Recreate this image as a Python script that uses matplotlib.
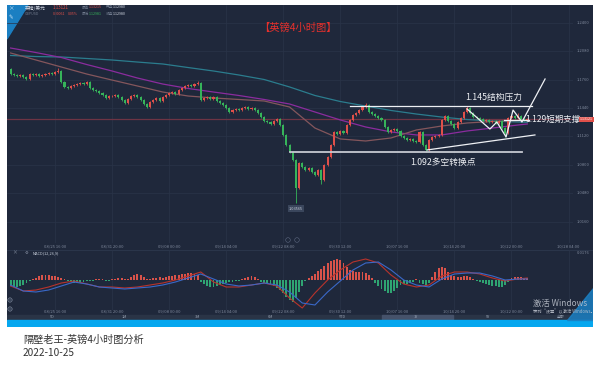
import numpy as np
import matplotlib.pyplot as plt
from matplotlib.patches import Rectangle, Polygon, Circle

plt.rcParams['font.family'] = ['Noto Sans CJK SC', 'DejaVu Sans']

# ---------------- data ----------------
first_open = 1.1880
closes = [
    1.1823, 1.1812, 1.1800, 1.1812, 1.1789, 1.1767, 1.1823, 1.1812, 1.1823, 1.1800,
    1.1812, 1.1823, 1.1834, 1.1823, 1.1846, 1.1857, 1.1733, 1.1677, 1.1665, 1.1688,
    1.1699, 1.1710, 1.1722, 1.1710, 1.1733, 1.1665, 1.1643, 1.1631, 1.1609, 1.1586,
    1.1553, 1.1575, 1.1575, 1.1586, 1.1564, 1.1530, 1.1496, 1.1541, 1.1575, 1.1586,
    1.1564, 1.1530, 1.1485, 1.1451, 1.1507, 1.1530, 1.1553, 1.1519, 1.1564, 1.1586,
    1.1609, 1.1620, 1.1598, 1.1643, 1.1665, 1.1688, 1.1699, 1.1688, 1.1710, 1.1722,
    1.1530, 1.1553, 1.1564, 1.1541, 1.1564, 1.1519, 1.1496, 1.1474, 1.1440, 1.1395,
    1.1417, 1.1429, 1.1417, 1.1440, 1.1451, 1.1429, 1.1440, 1.1417, 1.1384, 1.1338,
    1.1293, 1.1282, 1.1260, 1.1293, 1.1316, 1.1248, 1.1136, 1.1023, 1.0944, 1.0854,
    1.0538, 1.0820, 1.0775, 1.0741, 1.0764, 1.0719, 1.0685, 1.0741, 1.0629, 1.0798,
    1.0888, 1.1023, 1.1170, 1.1147, 1.1181, 1.1158, 1.1248, 1.1305, 1.1361, 1.1384,
    1.1417, 1.1451, 1.1474, 1.1395, 1.1372, 1.1350, 1.1327, 1.1305, 1.1226, 1.1170,
    1.1192, 1.1203, 1.1181, 1.1124, 1.1102, 1.1079, 1.1091, 1.1068, 1.1057, 1.1170,
    1.1023, 1.0967, 1.1079, 1.1113, 1.1124, 1.1136, 1.1305, 1.1350, 1.1293, 1.1260,
    1.1214, 1.1282, 1.1327, 1.1395, 1.1440, 1.1384, 1.1338, 1.1327, 1.1316, 1.1293,
    1.1305, 1.1282, 1.1293, 1.1271, 1.1293, 1.1214, 1.1158, 1.1327, 1.1350, 1.1327,
    1.1350, 1.1316, 1.1305, 1.1312,
]
# long wicks (bar index -> price); other bars get a short wick
wick_high = {0: 1.1891, 15: 1.1891, 59: 1.1744, 112: 1.1496, 144: 1.1462, 160: 1.1384}
wick_low = {43: 1.1440, 90: 1.0369, 98: 1.0583, 131: 1.0944, 156: 1.1113}
low_label = '1.03565'
last_price = 1.13121

ma_bars = [0, 8, 16, 24, 32, 40, 48, 56, 64, 72, 80, 88, 96, 104, 112, 120, 128,
           136, 144, 152, 160, 163]
ma_teal = [1.2032, 1.2020, 1.2015, 1.1998, 1.1981, 1.1958, 1.1936, 1.1896, 1.1857,
           1.1812, 1.1761, 1.1677, 1.1581, 1.1513, 1.1462, 1.1412, 1.1372, 1.1338,
           1.1310, 1.1293, 1.1282, 1.1279]
ma_purple = [1.2116, 1.2065, 1.2009, 1.1930, 1.1857, 1.1778, 1.1710, 1.1660, 1.1620,
             1.1581, 1.1536, 1.1485, 1.1395, 1.1305, 1.1226, 1.1170, 1.1136, 1.1136,
             1.1181, 1.1214, 1.1248, 1.1260]
ma_brown = [1.2060, 1.1981, 1.1902, 1.1823, 1.1755, 1.1688, 1.1620, 1.1575, 1.1553,
            1.1536, 1.1519, 1.1451, 1.1214, 1.1091, 1.1068, 1.1102, 1.1192, 1.1237,
            1.1271, 1.1288, 1.1299, 1.1305]

time_labels = ['08/25 16:00', '08/31 20:00', '09/08 00:00', '09/14 04:00', '09/22 08:00',
               '09/30 12:00', '10/07 16:00', '10/14 20:00', '10/22 00:00', '10/28 04:00']
time_label_bars = [14, 32, 50, 68, 86, 104, 122, 140, 158, 176]
price_ticks = [1.240, 1.208, 1.176, 1.144, 1.112, 1.080, 1.048, 1.016]

# MACD(12,26,9), read in chart units (1 unit ~ 0.00065)
macd_unit = 0.00065
macd_hist = [
    -6, -7, -7, -6, -5, -3, -1,
    1, 2, 4, 5, 5, 5, 4, 4, 3, 2, 1,
    -1, -2, -3, -3, -2, -2, -1, -1,
    -1, 1, 1, 1, -1, -1, 1, 1, 2, 2, 1, 1,
    3, 5, 6, 5, 3, 1, 1, 2,
    2, 3, 2, 3, 4, 4, 5, 5, 6, 6, 7, 7, 6, 5,
    -2, -4, -6, -7, -7, -6, -5, -4, -3, -2, -2, -1,
    -1, 1, 2, 3, 4, 3, 1,
    -2, -3, -4, -5, -6, -8, -10, -13, -17, -20, -22, -18, -12,
    -6, -1,
    2, 4, 6, 9, 11, 14, 17, 19, 20, 21, 20, 17, 13, 10, 9, 8, 8, 8, 7, 5, 2,
    -3, -6, -9, -11, -13, -13, -11, -8, -5,
    -4, -4, -3, -2, 1, -3, -4, -5, -3,
    3, 8, 12, 13, 12, 8, 5, 4, 3,
    3, 4, 4, 3, 1,
    -1, -2, -3, -4, -5, -6, -6, -7, -7, -5, -2,
    2, 3, 3, 3, 2, 2,
]
line_bars = [0, 4, 8, 12, 16, 20, 24, 28, 32, 36, 40, 44, 48, 52, 56, 60, 64, 68, 72,
             76, 80, 84, 88, 92, 96, 100, 104, 108, 112, 116, 120, 124, 128, 132, 136,
             140, 144, 148, 152, 156, 160, 163]
macd_dif = [-6, -11, -10, -7, -3, -1, -4, -7, -7, -8, -7, -5, -3, 0, 4, 8, -2, -7, -7,
            -5, -3, -6, -18, -28, -13, 0, 10, 18, 21, 17, 5, -4, -7, -5, 4, 8, 8, 6, 2,
            -1, 1, 2]
macd_dea = [-5, -11, -12, -10, -6, -2, -4, -7, -8, -9, -8, -7, -5, -2, 2, 6, 1, -4, -6,
            -5, -3, -5, -12, -23, -25, -12, -1, 10, 17, 18, 10, 0, -5, -7, 1, 6, 7, 7, 4,
            0, 1, 1]

# hand-drawn analysis lines
resist_level, resist_bars = 1.1468, [107.1, 164.5]
support_level, support_bars = 1.1300, [155.5, 163.5]
pivot_level, pivot_bars = 1.0940, [88.1, 161.3]
rise_bars, rise_prices = [131.4, 165.4], [1.0967, 1.1136]
zig_bars = [144.0, 151.2, 153.4, 156.3, 158.5, 161.3, 168.6]
zig_prices = [1.1429, 1.1203, 1.1282, 1.1113, 1.1417, 1.1282, 1.1767]

# ---------------- colours ----------------
BG = '#1f283b'
GRID = '#2a3448'
UP = '#e0504a'
DOWN = '#36b45a'
LBL = '#7d879a'

W, H = 600, 376


def box(x0, y0, x1, y1):
    return [x0 / W, 1 - y1 / H, (x1 - x0) / W, (y1 - y0) / H]


fig = plt.figure(figsize=(6, 3.76), dpi=100)
fig.patch.set_facecolor('white')

# dark backdrop in pixel coordinates (decorations only)
bg = fig.add_axes(box(7, 5, 593, 327))
bg.set_xlim(7, 593)
bg.set_ylim(327, 5)
bg.set_facecolor(BG)
bg.set_xticks([])
bg.set_yticks([])
for s in bg.spines.values():
    s.set_visible(False)
bg.add_patch(Polygon([[7, 5], [28, 5], [7, 39]], color='#1b7fc2', zorder=3))
bg.text(10.5, 9, '×', color='#cfe6f7', fontsize=4, ha='center', va='center')
bg.text(10.5, 18, '✎', color='#cfe6f7', fontsize=4, ha='center', va='center')
bg.plot([7, 593], [250, 250], color='#2d384d', lw=0.6)
bg.add_patch(Rectangle((7, 315), 586, 5, color='#2a3446'))
bg.add_patch(Rectangle((382, 315), 71, 5, color='#46526a'))
for k, s in enumerate(['5D', '1M', '3M', '6M', 'YTD', '1Y', '5Y', '全部']):
    bg.text(52 + 72.7 * k, 317.5, s, color='#9aa3b3', fontsize=2.8, ha='center', va='center')
bg.add_patch(Rectangle((7, 320), 586, 7, color='#06a7ef'))
for yy in [300, 309]:
    bg.add_patch(Circle((10, yy), 2.2, fc='#3a4559', ec='#8e98aa', lw=0.3))
bg.add_patch(Circle((288, 240), 2.3, fc='none', ec='#5d6880', lw=0.4))
bg.add_patch(Circle((297, 240), 2.3, fc='none', ec='#5d6880', lw=0.4))

# top-left quote header
bg.text(25, 8, '英镑/美元', color='#d5dbe6', fontsize=3.4, va='center')
bg.text(25, 14.5, 'GBPUSD', color='#6f7a8d', fontsize=2.6, va='center')
bg.text(53, 7.5, '1.13121', color=UP, fontsize=3.2, va='center')
bg.text(53, 14, '0.00061', color=UP, fontsize=2.6, va='center')
bg.text(68, 14, '0.05%', color=UP, fontsize=2.6, va='center')
for xx, yy, a, b, c in [(82, 7.5, '最高', '1.13215', UP), (106, 7.5, '开盘', '1.12980', '#d5dbe6'),
                        (82, 14, '最低', '1.12981', DOWN), (106, 14, '收盘', '1.12980', '#d5dbe6')]:
    bg.text(xx, yy, a, color='#6f7a8d', fontsize=2.6, va='center')
    bg.text(xx + 7, yy, b, color=c, fontsize=2.6, va='center')

# ---------------- main candle panel ----------------
ax = fig.add_axes(box(7, 5, 573, 243))
ax.set_xlim(-1.136, 177.41)
ax.set_ylim(0.9918, 1.2601)
ax.axis('off')

for b in time_label_bars:
    ax.axvline(b, color=GRID, lw=0.5, zorder=0)
for p in price_ticks:
    ax.axhline(p, color=GRID, lw=0.5, zorder=0)

ax.axhline(last_price, color='#6e3444', lw=0.9, zorder=1)

ax.plot(ma_bars, ma_teal, color='#2b7d8e', lw=0.9, zorder=2)
ax.plot(ma_bars, ma_purple, color='#8b2c9e', lw=0.9, zorder=2)
ax.plot(ma_bars, ma_brown, color='#84565c', lw=0.9, zorder=2)

closes_a = np.array(closes)
opens = np.concatenate([[first_open], closes_a[:-1]])
idx = np.arange(len(closes_a))
up = closes_a >= opens
colors = np.where(up, UP, DOWN)
top = np.maximum(opens, closes_a)
bot = np.minimum(opens, closes_a)
highs = np.array([wick_high.get(i, t + 0.0011) for i, t in zip(idx, top)])
lows = np.array([wick_low.get(i, m - 0.0011) for i, m in zip(idx, bot)])
ax.vlines(idx, lows, highs, colors=colors, lw=0.6, zorder=3)
ax.bar(idx, np.maximum(top - bot, 0.0005), bottom=bot, width=0.66, color=colors,
       linewidth=0, zorder=4)

# low marker
ax.text(90, wick_low[90] - 0.004, low_label, color='#c9d0dc', fontsize=2.8,
        ha='center', va='top', zorder=6,
        bbox=dict(boxstyle='square,pad=0.3', fc='#3a465c', ec='none'))

# analysis drawing
WHITE = '#eef0f4'
ax.plot(resist_bars, [resist_level] * 2, color=WHITE, lw=0.9, zorder=5)
ax.plot(support_bars, [support_level] * 2, color=WHITE, lw=0.9, zorder=5)
ax.plot(pivot_bars, [pivot_level] * 2, color='#c6c9d1', lw=1.3, zorder=5)
ax.plot(rise_bars, rise_prices, color=WHITE, lw=0.9, zorder=5)
ax.plot(zig_bars, zig_prices, color=WHITE, lw=0.9, zorder=5)

ax.text(143.4, 1.1564, '1.145结构压力', color=WHITE, fontsize=6.3, ha='left', va='center', zorder=6)
ax.text(162.3, 1.1316, '1.129短期支撑', color=WHITE, fontsize=6.1, ha='left', va='center', zorder=6)
ax.text(126.0, 1.0831, '1.092多空转换点', color=WHITE, fontsize=6.3, ha='left', va='center', zorder=6)

# axis labels
for b, t in zip(time_label_bars, time_labels):
    ax.text(b, -0.0168, t, transform=ax.get_xaxis_transform(), color=LBL,
            fontsize=3, ha='center', va='center')
for p in price_ticks:
    ax.text(1.0177, p, f'{p:.4f}', transform=ax.get_yaxis_transform(), color=LBL,
            fontsize=3, ha='center', va='center')
ax.text(1.024, last_price, f'{last_price:.5f}', transform=ax.get_yaxis_transform(),
        color='white', fontsize=2.6, ha='center', va='center', zorder=7,
        bbox=dict(boxstyle='square,pad=0.2', fc=UP, ec='none'))

fig.text(298 / W, 1 - 28 / H, '【英镑4小时图】', color='#e8302c', fontsize=7.4,
         ha='center', va='center')

# ---------------- MACD panel ----------------
ax2 = fig.add_axes(box(7, 250, 573, 310))
ax2.set_xlim(-1.136, 177.41)
ax2.set_ylim(-30 * macd_unit, 30 * macd_unit)
ax2.axis('off')
for b in time_label_bars:
    ax2.axvline(b, color=GRID, lw=0.5, zorder=0)

hist = np.array(macd_hist) * macd_unit
hcol = np.where(hist >= 0, '#d9534a', '#2fa472')
ax2.bar(np.arange(len(hist)), hist, width=0.6, color=hcol, linewidth=0, zorder=2)
ax2.plot(line_bars, np.array(macd_dif) * macd_unit, color='#b8332c', lw=0.8, zorder=3)
ax2.plot(line_bars, np.array(macd_dea) * macd_unit, color='#3a68c8', lw=0.8, zorder=3)

ax2.text(0.046, 0.95, 'MACD(12,26,9)', transform=ax2.transAxes, color='#c9d0dc',
         fontsize=2.8, ha='left', va='center')
ax2.text(0.014, 0.95, '×', transform=ax2.transAxes, color='#8e98aa', fontsize=3.5,
         ha='center', va='center')
ax2.text(0.035, 0.95, '⚙', transform=ax2.transAxes, color='#8e98aa', fontsize=3,
         ha='center', va='center')
ax2.text(1.0177, 27 * macd_unit, '0.0176', transform=ax2.get_yaxis_transform(),
         color=LBL, fontsize=3, ha='center', va='center')
# the last date label is hidden under the watermark in the original
for b, t in zip(time_label_bars[:-1], time_labels[:-1]):
    ax2.text(b, -0.033, t, transform=ax2.get_xaxis_transform(), color=LBL,
             fontsize=3, ha='center', va='center')

# windows watermark
fig.text(533 / W, 1 - 303 / H, '激活 Windows', color='#c3c8d2', fontsize=6, alpha=0.85,
         ha='left', va='center')
fig.text(533 / W, 1 - 311 / H, '转到“设置”以激活 Windows。', color='#c3c8d2', fontsize=3.1,
         alpha=0.85, ha='left', va='center')
bg.add_patch(Polygon([[593, 288], [593, 320], [567, 320]], color='#1b7fc2', alpha=0.85,
                     zorder=5))

# caption
fig.text(23 / W, 1 - 340 / H, '隔壁老王-英镑4小时图分析', color='#333333', fontsize=7.3,
         ha='left', va='center')
fig.text(23 / W, 1 - 353 / H, '2022-10-25', color='#333333', fontsize=7.3,
         ha='left', va='center')

fig.savefig('out.png', dpi=100)
